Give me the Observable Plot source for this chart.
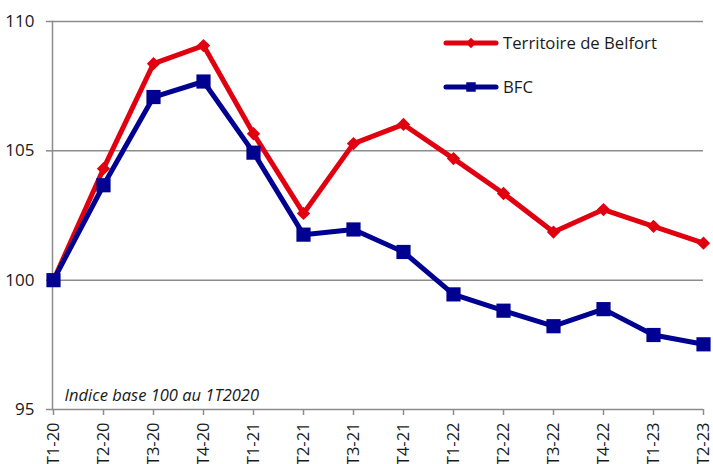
<!DOCTYPE html>
<html>
<head>
<meta charset="utf-8">
<script src="https://cdn.jsdelivr.net/npm/d3@7"></script>
<script src="https://cdn.jsdelivr.net/npm/@observablehq/plot@0.6"></script>
<style>
  html, body { margin: 0; padding: 0; background: white; }
  #wrap { position: relative; width: 713px; height: 464px; font-family: "Open Sans", "Noto Sans", sans-serif; }
  #legend { position: absolute; left: 0; top: 0; width: 713px; height: 464px; pointer-events: none; }
</style>
</head>
<body>
<div id="wrap"></div>
<script>
const quarters = ["T1-20","T2-20","T3-20","T4-20","T1-21","T2-21","T3-21","T4-21","T1-22","T2-22","T3-22","T4-22","T1-23","T2-23"];
const belfort = [100, 104.31, 108.37, 109.07, 105.66, 102.58, 105.28, 106.02, 104.70, 103.35, 101.86, 102.73, 102.08, 101.43];
const bfc = [100, 103.67, 107.08, 107.68, 104.93, 101.76, 101.96, 101.09, 99.45, 98.82, 98.22, 98.88, 97.88, 97.52];
const yTicks = [95, 100, 105, 110];
const seriesNames = ["Territoire de Belfort", "BFC"];
const note = "Indice base 100 au 1T2020";

const RED = "#e1000f", BLUE = "#000091", GRID = "#8c8c8c";
const FONT = "'Open Sans', 'Noto Sans', sans-serif";

const redData = quarters.map((q, i) => ({q, v: belfort[i]}));
const blueData = quarters.map((q, i) => ({q, v: bfc[i]}));

const chart = Plot.plot({
  width: 713, height: 464,
  marginLeft: 52, marginRight: 10, marginTop: 21, marginBottom: 55,
  style: {fontFamily: FONT, fontSize: "16px", color: "#1a1a1a", background: "white", overflow: "visible"},
  x: {type: "point", domain: quarters, padding: 0, label: null},
  y: {domain: [95, 110], label: null},
  marks: [
    Plot.gridY(yTicks, {stroke: GRID, strokeOpacity: 1, strokeWidth: 1.5}),
    Plot.frame({anchor: "left", stroke: GRID, strokeWidth: 1.5}),
    Plot.axisY(yTicks, {tickSize: 6, tickPadding: 12, stroke: GRID, strokeWidth: 1.5, fill: "#1a1a1a", fontSize: 17, label: null}),
    Plot.axisX({tickSize: 6, tickPadding: 7, tickRotate: -90, stroke: GRID, strokeWidth: 1.5, fill: "#1a1a1a", fontSize: 16.5, label: null}),
    Plot.text([note], {frameAnchor: "bottom-left", dx: 12, dy: -9, fontStyle: "italic", fontSize: 16.5, textAnchor: "start", lineAnchor: "bottom", fill: "#1a1a1a"}),
    Plot.line(redData, {x: "q", y: "v", stroke: RED, strokeWidth: 5, strokeLinejoin: "round"}),
    Plot.dot(redData, {x: "q", y: "v", symbol: "diamond2", r: 6, fill: RED, stroke: null}),
    Plot.line(blueData, {x: "q", y: "v", stroke: BLUE, strokeWidth: 5, strokeLinejoin: "round"}),
    Plot.dot(blueData, {x: "q", y: "v", symbol: "square", r: 8, fill: BLUE, stroke: null})
  ]
});
const wrap = document.getElementById("wrap");
wrap.appendChild(chart);

// Legend overlay
const leg = d3.create("svg").attr("id", "legend").attr("width", 713).attr("height", 464);
const items = [
  {name: seriesNames[0], color: RED, y: 43, sym: d3.symbolDiamond2, size: 70},
  {name: seriesNames[1], color: BLUE, y: 87, sym: d3.symbolSquare, size: 90}
];
for (const it of items) {
  const g = leg.append("g");
  g.append("line").attr("x1", 446).attr("x2", 496).attr("y1", it.y).attr("y2", it.y)
    .attr("stroke", it.color).attr("stroke-width", 5).attr("stroke-linecap", "round");
  g.append("path").attr("d", d3.symbol(it.sym, it.size)()).attr("transform", `translate(471,${it.y})`).attr("fill", it.color);
  g.append("text").attr("x", 503).attr("y", it.y).attr("dy", "0.35em")
    .attr("font-family", FONT).attr("font-size", 16.7).attr("fill", "#1a1a1a").text(it.name);
}
wrap.appendChild(leg.node());
</script>
</body>
</html>
